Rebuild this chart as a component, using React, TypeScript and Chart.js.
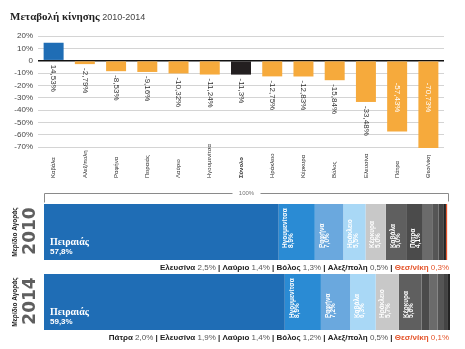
import React, { useEffect, useRef } from "react";
import { Chart, registerables } from "chart.js";
Chart.register(...registerables);

// ---- Data: change in traffic 2010-2014 ----
const changePorts = ["Καβάλα", "Αλεξ/πολη", "Ραφήνα", "Πειραιάς", "Λαύριο", "Ηγουμενίτσα", "Σύνολο", "Ηράκλειο", "Κέρκυρα", "Βόλος", "Ελευσίνα", "Πάτρα", "Θεσ/νίκη"];
const changeValues = [14.53, -2.79, -8.53, -9.16, -10.32, -11.24, -11.3, -12.75, -12.83, -15.84, -33.48, -57.43, -70.73];
const yMin = -70;
const yMax = 20;
const yStep = 10;

// ---- Data: market share ----
const years = ["2010", "2014"];
const ports2010 = ["Πειραιάς", "Ηγουμενίτσα", "Ραφήνα", "Ηράκλειο", "Κέρκυρα", "Καβάλα", "Πάτρα", "Ελευσίνα", "Λαύριο", "Βόλος", "Αλεξ/πολη", "Θεσ/νίκη"];
const share2010 = [57.8, 8.9, 7.0, 5.5, 5.0, 5.0, 4.1, 2.5, 1.4, 1.3, 0.5, 0.3];
const ports2014 = ["Πειραιάς", "Ηγουμενίτσα", "Ραφήνα", "Καβάλα", "Ηράκλειο", "Κέρκυρα", "Πάτρα", "Ελευσίνα", "Λαύριο", "Βόλος", "Αλεξ/πολη", "Θεσ/νίκη"];
const share2014 = [59.3, 8.9, 7.2, 6.3, 5.7, 5.6, 2.0, 1.9, 1.4, 1.2, 0.5, 0.1];
const rankColors = ["#1f6db5", "#2a8bd4", "#6aa8de", "#a9d8f6", "#c8c8c8", "#5f5f5f", "#4b4b4b", "#6b6b6b", "#555555", "#444444", "#232323", "#e4542a"];

const SANS = "'Liberation Sans', Arial, sans-serif";
const SERIF = "'Liberation Serif', serif";
const RED = "#e4542a";

const fmt = (v: number) => String(v).replace(".", ",") + "%";
const fmt1 = (v: number) => v.toFixed(1).replace(".", ",") + "%";

const topOverlay = {
  id: "topOverlay",
  afterDatasetsDraw(chart: any) {
    const ctx = chart.ctx as CanvasRenderingContext2D;
    const xs = chart.scales.x;
    const ys = chart.scales.y;
    const zero = ys.getPixelForValue(0);
    ctx.save();
    // title
    ctx.textBaseline = "alphabetic";
    ctx.textAlign = "left";
    ctx.fillStyle = "#222";
    ctx.font = `bold 11px ${SERIF}`;
    const t1 = "Μεταβολή κίνησης ";
    ctx.fillText(t1, 10, 20);
    const w1 = ctx.measureText(t1).width;
    ctx.font = `9px ${SANS}`;
    ctx.fillStyle = "#444";
    ctx.fillText("2010-2014", 10 + w1, 20);

    // value labels
    changeValues.forEach((v, i) => {
      const x = xs.getPixelForValue(i);
      const end = ys.getPixelForValue(v);
      const inside = end - zero > 55;
      let start: number;
      if (v >= 0) start = zero + 4;
      else if (inside) start = zero + 22;
      else start = end + 4;
      ctx.save();
      ctx.translate(x, start);
      ctx.rotate(Math.PI / 2);
      ctx.textAlign = "left";
      ctx.textBaseline = "middle";
      ctx.font = `8px ${SANS}`;
      ctx.fillStyle = inside ? "#ffffff" : "#333333";
      ctx.fillText(fmt(v), 0, 0);
      ctx.restore();
    });

    // category labels
    changePorts.forEach((name, i) => {
      const x = xs.getPixelForValue(i);
      ctx.save();
      ctx.translate(x, 178);
      ctx.rotate(-Math.PI / 2);
      ctx.textAlign = "left";
      ctx.textBaseline = "middle";
      ctx.font = `${name === "Σύνολο" ? "bold " : ""}6px ${SANS}`;
      ctx.fillStyle = "#333";
      ctx.fillText(name, 0, 0);
      ctx.restore();
    });
    ctx.restore();
  },
};

const bottomOverlay = {
  id: "bottomOverlay",
  afterDatasetsDraw(chart: any) {
    const ctx = chart.ctx as CanvasRenderingContext2D;
    const ca = chart.chartArea;
    ctx.save();
    // 100% bracket
    const by = 8.5;
    const L = Math.round(ca.left) + 0.5;
    const R = Math.round(ca.right) - 1.5;
    const mid = (L + R) / 2;
    ctx.strokeStyle = "#8a8a8a";
    ctx.lineWidth = 1;
    ctx.beginPath();
    ctx.moveTo(L, by + 9);
    ctx.lineTo(L, by);
    ctx.lineTo(mid - 14, by);
    ctx.moveTo(mid + 14, by);
    ctx.lineTo(R, by);
    ctx.lineTo(R, by + 8);
    ctx.stroke();
    ctx.fillStyle = "#777";
    ctx.font = `6px ${SANS}`;
    ctx.textAlign = "center";
    ctx.textBaseline = "middle";
    ctx.fillText("100%", mid, by);

    const portsByYear = [ports2010, ports2014];
    const sharesByYear = [share2010, share2014];

    years.forEach((year, j) => {
      const ports = portsByYear[j];
      const shares = sharesByYear[j];
      let bottom = 0, yc = 0;
      const small: number[] = [];
      shares.forEach((s, i) => {
        const el = chart.getDatasetMeta(i).data[j];
        const p = el.getProps(["x", "y", "base", "height"], true);
        bottom = p.y + p.height / 2;
        yc = p.y;
        const left = Math.min(p.x, p.base);
        if (i === 0) {
          ctx.textAlign = "left";
          ctx.textBaseline = "alphabetic";
          ctx.fillStyle = "#fff";
          ctx.font = `bold 10px ${SERIF}`;
          ctx.fillText(ports[i], left + 6, bottom - 15);
          ctx.font = `bold 8px ${SANS}`;
          ctx.fillText(fmt1(s), left + 6, bottom - 6);
        } else if (s >= 4) {
          ctx.save();
          ctx.translate(left + 7, bottom - 12);
          ctx.rotate(-Math.PI / 2);
          ctx.textAlign = "left";
          ctx.textBaseline = "middle";
          ctx.fillStyle = "#fff";
          ctx.font = `bold 6.5px ${SANS}`;
          ctx.fillText(ports[i], 0, 0);
          ctx.fillText(fmt1(s), 0, 5.5);
          ctx.restore();
        } else {
          small.push(i);
        }
      });

      // left year labels
      ctx.save();
      ctx.translate(31, yc - 1);
      ctx.rotate(-Math.PI / 2);
      ctx.textAlign = "center";
      ctx.textBaseline = "middle";
      ctx.fillStyle = "#5f5f5f";
      ctx.font = `bold 17px 'DejaVu Sans', sans-serif`;
      ctx.fillText(year, 0, 0);
      ctx.restore();
      ctx.save();
      ctx.translate(15.5, yc);
      ctx.rotate(-Math.PI / 2);
      ctx.textAlign = "center";
      ctx.textBaseline = "middle";
      ctx.fillStyle = "#222";
      ctx.font = `bold 6.5px ${SANS}`;
      ctx.fillText("Μερίδιο Αγοράς", 0, 0);
      ctx.restore();

      // small-share line below the bar
      const parts: { t: string; f: string; c: string }[] = [];
      small.forEach((i, k) => {
        const last = k === small.length - 1;
        const isRed = ports[i] === "Θεσ/νίκη";
        parts.push({ t: ports[i], f: `bold 8px ${SANS}`, c: isRed ? RED : "#222" });
        parts.push({ t: " " + fmt1(shares[i]), f: `8px ${SANS}`, c: isRed ? RED : "#555" });
        if (!last) parts.push({ t: " | ", f: `bold 8px ${SANS}`, c: "#222" });
      });
      let total = 0;
      parts.forEach((p) => {
        ctx.font = p.f;
        total += ctx.measureText(p.t).width;
      });
      let x = ca.right - 1 - total;
      const ty = bottom + 10;
      ctx.textAlign = "left";
      ctx.textBaseline = "alphabetic";
      parts.forEach((p) => {
        ctx.font = p.f;
        ctx.fillStyle = p.c;
        ctx.fillText(p.t, x, ty);
        x += ctx.measureText(p.t).width;
      });
    });
    ctx.restore();
  },
};

export default function App() {
  const topRef = useRef<HTMLCanvasElement>(null);
  const botRef = useRef<HTMLCanvasElement>(null);

  useEffect(() => {
    Chart.defaults.font.family = SANS;
    const barColors = changeValues.map((v, i) =>
      changePorts[i] === "Σύνολο" ? "#231f20" : v >= 0 ? "#1f6db5" : "#f6aa3c"
    );
    const top = new Chart(topRef.current!, {
      type: "bar",
      data: {
        labels: changePorts,
        datasets: [
          {
            data: changeValues,
            backgroundColor: barColors,
            borderWidth: 0,
            barPercentage: 0.64,
            categoryPercentage: 1,
            clip: false as any,
          },
        ],
      },
      options: {
        responsive: false,
        animation: false,
        layout: { padding: { top: 36, bottom: 38, left: 0, right: 21 } },
        plugins: { legend: { display: false }, tooltip: { enabled: false }, title: { display: false } },
        scales: {
          x: { display: false },
          y: {
            min: yMin,
            max: yMax,
            afterFit: (s: any) => {
              s.width = 38;
            },
            border: { display: false },
            grid: {
              drawTicks: false,
              color: (c: any) => (c.tick && c.tick.value === 0 ? "#111" : "#d4d4d4"),
              lineWidth: (c: any) => (c.tick && c.tick.value === 0 ? 1.5 : 1),
            },
            ticks: {
              stepSize: yStep,
              autoSkip: false,
              padding: 5,
              color: "#444",
              font: { size: 8 },
              callback: (v: any) => (Number(v) === 0 ? "0" : v + "%"),
            },
          },
        },
      },
      plugins: [topOverlay],
    });

    const bot = new Chart(botRef.current!, {
      type: "bar",
      data: {
        labels: years,
        datasets: share2010.map((s, i) => ({
          label: "rank" + (i + 1),
          data: [s, share2014[i]],
          backgroundColor: rankColors[i],
          borderWidth: 0,
          barPercentage: 0.8,
          categoryPercentage: 1,
          stack: "s",
        })),
      },
      options: {
        indexAxis: "y",
        responsive: false,
        animation: false,
        layout: { padding: { top: 12, bottom: 12, left: 44, right: 15 } },
        plugins: { legend: { display: false }, tooltip: { enabled: false } },
        scales: {
          x: { display: false, stacked: true, min: 0, max: 100 },
          y: { display: false, stacked: true },
        },
      },
      plugins: [bottomOverlay],
    });
    return () => {
      top.destroy();
      bot.destroy();
    };
  }, []);

  return (
    <div style={{ position: "fixed", left: 0, top: 0, width: 465, height: 349, background: "#fff" }}>
      <canvas ref={topRef} width={465} height={185} style={{ position: "absolute", left: 0, top: 0 }} />
      <canvas ref={botRef} width={465} height={164} style={{ position: "absolute", left: 0, top: 185 }} />
    </div>
  );
}
